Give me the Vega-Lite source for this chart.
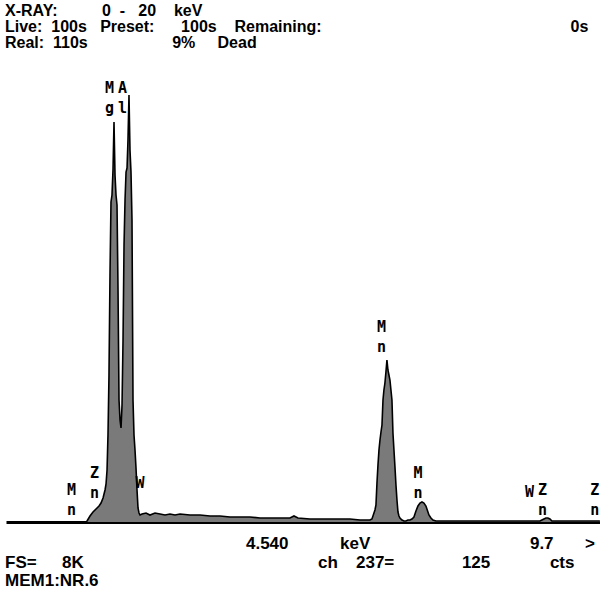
{
  "$schema": "https://vega.github.io/schema/vega-lite/v6.json",
  "autosize": "none",
  "width": 594,
  "height": 450,
  "padding": {"left": 6, "top": 72, "right": 0, "bottom": 75},
  "background": "white",
  "config": {
    "view": {"stroke": null},
    "axisX": {"domain": true, "domainColor": "black", "domainWidth": 3, "ticks": false, "labels": false, "grid": false, "title": null},
    "axisY": {"domain": false, "ticks": false, "labels": false, "grid": false, "title": null}
  },
  "title": {
    "text": [
      "X-RAY:\u00a0\u00a0\u00a0\u00a0\u00a0\u00a0\u00a0\u00a0\u00a0\u00a00\u00a0\u00a0-\u00a0\u00a0\u00a020\u00a0\u00a0\u00a0\u00a0keV",
      "Live:\u00a0\u00a0100s\u00a0\u00a0\u00a0Preset:\u00a0\u00a0\u00a0\u00a0\u00a0\u00a0100s\u00a0\u00a0\u00a0\u00a0Remaining:\u00a0\u00a0\u00a0\u00a0\u00a0\u00a0\u00a0\u00a0\u00a0\u00a0\u00a0\u00a0\u00a0\u00a0\u00a0\u00a0\u00a0\u00a0\u00a0\u00a0\u00a0\u00a0\u00a0\u00a0\u00a0\u00a0\u00a0\u00a0\u00a0\u00a0\u00a0\u00a0\u00a0\u00a0\u00a0\u00a0\u00a0\u00a0\u00a0\u00a0\u00a0\u00a0\u00a0\u00a0\u00a0\u00a0\u00a0\u00a0\u00a0\u00a0\u00a0\u00a0\u00a0\u00a0\u00a0\u00a00s",
      "Real:\u00a0\u00a0110s\u00a0\u00a0\u00a0\u00a0\u00a0\u00a0\u00a0\u00a0\u00a0\u00a0\u00a0\u00a0\u00a0\u00a0\u00a0\u00a0\u00a0\u00a0\u00a09%\u00a0\u00a0\u00a0\u00a0\u00a0Dead"
    ],
    "anchor": "start",
    "frame": "group",
    "dx": -1,
    "offset": 21,
    "font": "Liberation Sans",
    "fontSize": 16,
    "fontWeight": "bold",
    "lineHeight": 16,
    "color": "black"
  },
  "datasets": {
    "spectrum": [
      {"kev": 0.797, "cts": 0}, {"kev": 0.814, "cts": 18}, {"kev": 0.864, "cts": 108}, {"kev": 0.915, "cts": 180},
      {"kev": 0.966, "cts": 234}, {"kev": 1.017, "cts": 288}, {"kev": 1.051, "cts": 342}, {"kev": 1.085, "cts": 432},
      {"kev": 1.102, "cts": 504}, {"kev": 1.119, "cts": 576}, {"kev": 1.136, "cts": 684}, {"kev": 1.153, "cts": 936},
      {"kev": 1.169, "cts": 1566}, {"kev": 1.186, "cts": 2646}, {"kev": 1.203, "cts": 4446}, {"kev": 1.220, "cts": 5760},
      {"kev": 1.237, "cts": 5886}, {"kev": 1.254, "cts": 6336}, {"kev": 1.271, "cts": 7200}, {"kev": 1.288, "cts": 6246},
      {"kev": 1.305, "cts": 5886}, {"kev": 1.322, "cts": 5706}, {"kev": 1.339, "cts": 4176}, {"kev": 1.356, "cts": 2196},
      {"kev": 1.373, "cts": 1836}, {"kev": 1.390, "cts": 1692}, {"kev": 1.407, "cts": 2106}, {"kev": 1.424, "cts": 3276},
      {"kev": 1.441, "cts": 4986}, {"kev": 1.458, "cts": 5796}, {"kev": 1.475, "cts": 6300}, {"kev": 1.492, "cts": 6372},
      {"kev": 1.508, "cts": 6876}, {"kev": 1.525, "cts": 7686}, {"kev": 1.542, "cts": 6696}, {"kev": 1.559, "cts": 6300},
      {"kev": 1.576, "cts": 5436}, {"kev": 1.593, "cts": 2196}, {"kev": 1.610, "cts": 1566}, {"kev": 1.627, "cts": 1296},
      {"kev": 1.644, "cts": 972}, {"kev": 1.661, "cts": 576}, {"kev": 1.678, "cts": 252}, {"kev": 1.695, "cts": 162},
      {"kev": 1.712, "cts": 126}, {"kev": 1.746, "cts": 144}, {"kev": 1.814, "cts": 162}, {"kev": 1.881, "cts": 126},
      {"kev": 1.966, "cts": 162}, {"kev": 2.051, "cts": 144}, {"kev": 2.136, "cts": 126}, {"kev": 2.220, "cts": 144},
      {"kev": 2.305, "cts": 126}, {"kev": 2.390, "cts": 144}, {"kev": 2.559, "cts": 126}, {"kev": 2.729, "cts": 126},
      {"kev": 2.898, "cts": 108}, {"kev": 3.068, "cts": 108}, {"kev": 3.237, "cts": 90}, {"kev": 3.407, "cts": 90},
      {"kev": 3.576, "cts": 90}, {"kev": 3.746, "cts": 72}, {"kev": 3.915, "cts": 72}, {"kev": 4.085, "cts": 72},
      {"kev": 4.254, "cts": 72}, {"kev": 4.322, "cts": 108}, {"kev": 4.390, "cts": 72}, {"kev": 4.593, "cts": 54},
      {"kev": 4.763, "cts": 54}, {"kev": 4.932, "cts": 54}, {"kev": 5.102, "cts": 54}, {"kev": 5.271, "cts": 54},
      {"kev": 5.441, "cts": 36}, {"kev": 5.576, "cts": 36}, {"kev": 5.610, "cts": 36}, {"kev": 5.644, "cts": 54},
      {"kev": 5.661, "cts": 108}, {"kev": 5.678, "cts": 162}, {"kev": 5.695, "cts": 216}, {"kev": 5.712, "cts": 306},
      {"kev": 5.729, "cts": 702}, {"kev": 5.746, "cts": 1026}, {"kev": 5.763, "cts": 1296}, {"kev": 5.780, "cts": 1476},
      {"kev": 5.797, "cts": 1620}, {"kev": 5.814, "cts": 1746}, {"kev": 5.831, "cts": 2196}, {"kev": 5.847, "cts": 2376},
      {"kev": 5.864, "cts": 2502}, {"kev": 5.881, "cts": 2700}, {"kev": 5.898, "cts": 2916}, {"kev": 5.915, "cts": 2736},
      {"kev": 5.932, "cts": 2646}, {"kev": 5.949, "cts": 2556}, {"kev": 5.966, "cts": 2376}, {"kev": 5.983, "cts": 2196},
      {"kev": 6.000, "cts": 1602}, {"kev": 6.017, "cts": 1296}, {"kev": 6.034, "cts": 990}, {"kev": 6.051, "cts": 666},
      {"kev": 6.068, "cts": 396}, {"kev": 6.085, "cts": 180}, {"kev": 6.102, "cts": 108}, {"kev": 6.119, "cts": 72},
      {"kev": 6.153, "cts": 36}, {"kev": 6.186, "cts": 18}, {"kev": 6.220, "cts": 18}, {"kev": 6.254, "cts": 36},
      {"kev": 6.288, "cts": 36}, {"kev": 6.322, "cts": 54}, {"kev": 6.356, "cts": 90}, {"kev": 6.373, "cts": 144},
      {"kev": 6.390, "cts": 198}, {"kev": 6.424, "cts": 288}, {"kev": 6.458, "cts": 342}, {"kev": 6.492, "cts": 360},
      {"kev": 6.525, "cts": 342}, {"kev": 6.559, "cts": 288}, {"kev": 6.593, "cts": 180}, {"kev": 6.610, "cts": 126},
      {"kev": 6.644, "cts": 72}, {"kev": 6.678, "cts": 36}, {"kev": 6.729, "cts": 18}, {"kev": 6.966, "cts": 18},
      {"kev": 7.305, "cts": 18}, {"kev": 7.644, "cts": 18}, {"kev": 7.983, "cts": 18}, {"kev": 8.322, "cts": 18},
      {"kev": 8.492, "cts": 18}, {"kev": 8.525, "cts": 36}, {"kev": 8.559, "cts": 54}, {"kev": 8.593, "cts": 72},
      {"kev": 8.627, "cts": 72}, {"kev": 8.661, "cts": 54}, {"kev": 8.695, "cts": 18}, {"kev": 9.000, "cts": 18},
      {"kev": 9.339, "cts": 18}, {"kev": 9.508, "cts": 18}
    ],
    "peaks": [
      {"kev": 1.195, "cts": 7722, "label": "M\ng"},
      {"kev": 1.415, "cts": 7722, "label": "A\nl"},
      {"kev": 5.805, "cts": 3420, "label": "M\nn"},
      {"kev": 6.424, "cts": 792, "label": "M\nn"},
      {"kev": 0.941, "cts": 792, "label": "Z\nn"},
      {"kev": 0.551, "cts": 486, "label": "M\nn"},
      {"kev": 1.712, "cts": 612, "label": "W"},
      {"kev": 8.314, "cts": 450, "label": "W"},
      {"kev": 8.534, "cts": 486, "label": "Z\nn"},
      {"kev": 9.42, "cts": 486, "label": "Z\nn"}
    ],
    "readout": [
      {"kev": 3.508, "cts": -486, "label": "4.540"},
      {"kev": 5.102, "cts": -486, "label": "keV"},
      {"kev": 8.322, "cts": -486, "label": "9.7"},
      {"kev": 9.254, "cts": -486, "label": ">"},
      {"kev": -0.576, "cts": -828, "label": "FS="},
      {"kev": 0.39, "cts": -828, "label": "8K"},
      {"kev": 4.729, "cts": -828, "label": "ch"},
      {"kev": 5.373, "cts": -828, "label": "237="},
      {"kev": 7.169, "cts": -828, "label": "125"},
      {"kev": 8.661, "cts": -828, "label": "cts"},
      {"kev": -0.576, "cts": -1152, "label": "MEM1:NR.6"}
    ]
  },
  "layer": [
    {
      "data": {"name": "spectrum"},
      "mark": {"type": "area", "color": "#7a7a7a", "interpolate": "linear"},
      "encoding": {
        "x": {"field": "kev", "type": "quantitative", "scale": {"domain": [-0.56, 9.51], "nice": false, "zero": false}},
        "y": {"field": "cts", "type": "quantitative", "scale": {"domain": [0, 8100], "nice": false}}
      }
    },
    {
      "data": {"name": "spectrum"},
      "mark": {"type": "line", "color": "black", "strokeWidth": 1.6},
      "encoding": {
        "x": {"field": "kev", "type": "quantitative"},
        "y": {"field": "cts", "type": "quantitative"}
      }
    },
    {
      "data": {"name": "peaks"},
      "mark": {"type": "text", "clip": false, "font": "DejaVu Sans Mono", "fontSize": 15, "fontWeight": "bold", "lineBreak": "\n", "lineHeight": 20, "align": "center", "baseline": "alphabetic", "color": "black"},
      "encoding": {
        "x": {"field": "kev", "type": "quantitative"},
        "y": {"field": "cts", "type": "quantitative"},
        "text": {"field": "label"}
      }
    },
    {
      "data": {"name": "readout"},
      "mark": {"type": "text", "clip": false, "font": "Liberation Sans", "fontSize": 17, "fontWeight": "bold", "align": "left", "baseline": "alphabetic", "color": "black"},
      "encoding": {
        "x": {"field": "kev", "type": "quantitative"},
        "y": {"field": "cts", "type": "quantitative"},
        "text": {"field": "label"}
      }
    }
  ]
}
